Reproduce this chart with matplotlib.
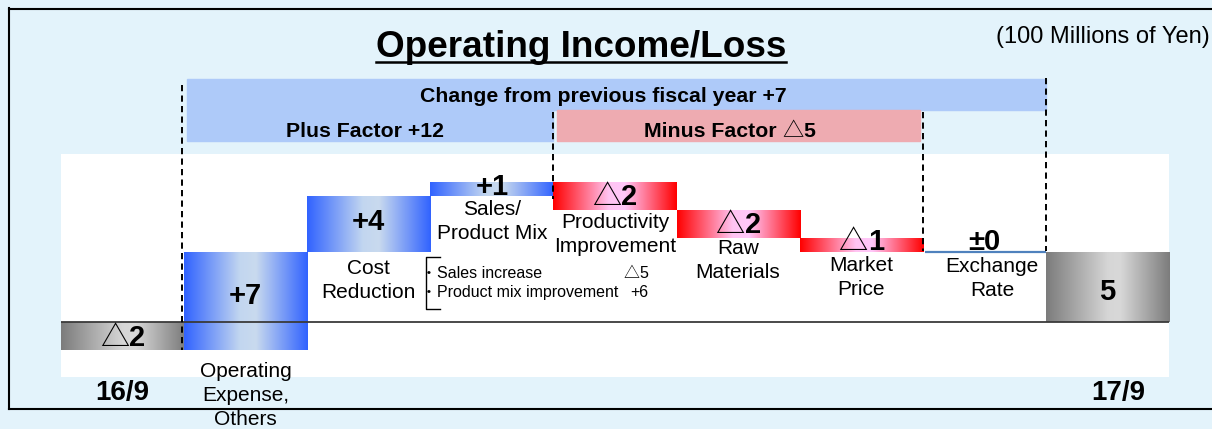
import numpy as np
import matplotlib
matplotlib.use("Agg")
import matplotlib.pyplot as plt
from matplotlib.colors import LinearSegmentedColormap
from matplotlib.transforms import ScaledTranslation
from matplotlib.lines import Line2D
from matplotlib.patches import Rectangle

# ---------------- data ----------------
categories = ["16/9", "Operating\nExpense,\nOthers", "Cost\nReduction", "Sales/\nProduct Mix",
              "Productivity\nImprovement", "Raw\nMaterials", "Market\nPrice", "Exchange\nRate", "17/9"]
values = [-2, 7, 4, 1, -2, -2, -1, 0, 5]
is_total = [True, False, False, False, False, False, False, False, True]
value_labels = ["△2", "+7", "+4", "+1", "△2", "△2", "△1", "±0", "5"]
title = "Operating Income/Loss"
unit_label = "(100 Millions of Yen)"
change_label = "Change from previous fiscal year +7"
plus_label = "Plus Factor +12"
minus_label = "Minus Factor △5"
note_items = ["Sales increase", "Product mix improvement"]
note_values = ["△5", "+6"]

# ---------------- layout / style ----------------
W, H = 1212, 429
DPI = 100
MAIN = ["Liberation Sans", "DejaVu Sans"]
TRI = ["Noto Sans CJK JP", "DejaVu Sans"]
BG = "#e3f3fb"

fig = plt.figure(figsize=(W / DPI, H / DPI), dpi=DPI, facecolor=BG)
ax = fig.add_axes([61 / W, 1 - 377 / H, (1169 - 61) / W, (377 - 154) / H])
ax.set_facecolor("white")
for s in ax.spines.values():
    s.set_visible(False)
ax.set_xticks([])
ax.set_yticks([])

n = len(values)
x = np.arange(n)
bottoms, heights = [], []
running = 0
for v, tot in zip(values, is_total):
    if tot:
        bottoms.append(0)
        heights.append(v)
        running = v
    else:
        bottoms.append(running)
        heights.append(v)
        running += v

bars = ax.bar(x, heights, bottom=bottoms, width=1.0, color="none", edgecolor="none")

cm_blue = LinearSegmentedColormap.from_list("b", [(0, "#3163ff"), (0.45, "#c2d6f0"), (0.58, "#c9daee"), (1, "#3163ff")])
cm_red = LinearSegmentedColormap.from_list("r", [(0, "#ff0000"), (0.45, "#ffc4f2"), (0.58, "#ffc8fa"), (1, "#ff0000")])
cm_gray = LinearSegmentedColormap.from_list("g", [(0, "#7c7c7c"), (0.5, "#d6d6d6"), (0.6, "#d8d8d8"), (1, "#7c7c7c")])
grad = np.linspace(0, 1, 256).reshape(1, -1)

for i, b in enumerate(bars):
    x0 = b.get_x()
    x1 = x0 + b.get_width()
    y0 = b.get_y()
    y1 = y0 + b.get_height()
    if heights[i] == 0:
        ax.hlines(y0, x0 + 0.02, x1, color="#4f81bd", lw=1.6, zorder=3)
        continue
    cm = cm_gray if is_total[i] else (cm_blue if heights[i] > 0 else cm_red)
    ax.imshow(grad, extent=(x0, x1, min(y0, y1), max(y0, y1)), origin="lower",
              aspect="auto", cmap=cm, interpolation="bicubic", zorder=2)

ax.axhline(0, color="#3a3a3a", lw=1.3, zorder=4)
ax.set_xlim(-0.5, n - 0.5)
ax.set_ylim(-3.93, 12.0)

renderer = fig.canvas.get_renderer()


def piece_text(xx, yy, pieces, size, ha="center", dx_px=0, dy_px=0, transform=None, zorder=6):
    trans = transform if transform is not None else ax.transData
    arts, widths = [], []
    for s, weight, fam in pieces:
        t = ax.text(xx, yy, s, fontsize=size, fontweight=weight, family=fam,
                    ha="left", va="baseline", transform=trans, clip_on=False, zorder=zorder)
        widths.append(t.get_window_extent(renderer).width)
        arts.append(t)
    total = sum(widths)
    off = {"center": -total / 2, "left": 0, "right": -total}[ha] + dx_px
    base = dy_px - 0.36 * size * DPI / 72
    for t, w in zip(arts, widths):
        t.set_transform(trans + ScaledTranslation(off / DPI, base / DPI, fig.dpi_scale_trans))
        off += w
    return arts


def split_tri(label, weight, fam=MAIN):
    if label.startswith("△"):
        return [("△", "normal", TRI), (label[1:], weight, fam)]
    return [(label, weight, fam)]


# value labels
label_dy = [0, 7, 4, 4, 1, 1, 5, 12, -3]
for i in range(n):
    cy = bottoms[i] + heights[i] / 2
    piece_text(x[i], cy, split_tri(value_labels[i], "bold"), 21, dy_px=label_dy[i])

# category labels
cat_dy = [0, 12, 7, 4, 3, 1, 4, 5, 0]
cat_dx = [0, 0, 0, 0, 0, 0, 0, 8, 11]
for i in range(n):
    if is_total[i]:
        piece_text(x[i], -4.86, [(categories[i], "bold", MAIN)], 20, dx_px=cat_dx[i])
    else:
        low = min(bottoms[i], bottoms[i] + heights[i])
        ax.text(x[i], low, categories[i], ha="center", va="top", fontsize=15, family=MAIN,
                linespacing=1.32, clip_on=False, zorder=6,
                transform=ax.transData + ScaledTranslation(cat_dx[i] / DPI, -cat_dy[i] / DPI, fig.dpi_scale_trans))

# note with bracket
ax.plot([2.579, 2.465, 2.465, 2.579], [4.64, 4.64, 0.93, 0.93], color="black", lw=1.0, zorder=5)
note_y = [3.57, 2.21]
for item, val, yy in zip(note_items, note_values, note_y):
    piece_text(2.425, yy, [("・", "normal", ["Noto Sans CJK JP"]), (item, "normal", MAIN)], 11.5, ha="left", dx_px=0)
    piece_text(4.27, yy, split_tri(val, "normal"), 11.5, ha="right")

# banners above the plot
ax.add_patch(Rectangle((0.52, 15.14), 7.5 - 0.52, 17.36 - 15.14, color="#aecaf9", clip_on=False, zorder=1))
ax.add_patch(Rectangle((0.52, 12.93), 3.5 - 0.52, 15.14 - 12.93, color="#aecaf9", clip_on=False, zorder=1))
ax.add_patch(Rectangle((3.53, 12.93), 6.48 - 3.53, 15.14 - 12.93, color="#eeabb1", clip_on=False, zorder=1))
piece_text(3.903, 16.29, [(change_label, "bold", MAIN)], 15.3)
piece_text(1.97, 13.75, [(plus_label, "bold", MAIN)], 15.3)
piece_text(4.93, 13.75, [(minus_label[:-2], "bold", MAIN), ("△", "normal", TRI), (minus_label[-1], "bold", MAIN)], 15.3)

# dashed guide lines
dash = dict(color="black", lw=1.4, dashes=(3.2, 2.2), clip_on=False, zorder=7)
ax.plot([0.483, 0.483], [16.9, -2.0], **dash)
ax.plot([3.5, 3.5], [15.0, 8.8], **dash)
ax.plot([6.5, 6.5], [15.0, 5.1], **dash)
ax.plot([7.5, 7.5], [17.4, 5.1], **dash)

# title & unit
tt = fig.text(581 / W, 1 - 57 / H, title, ha="center", va="baseline", fontsize=26.6,
              fontweight="bold", family=MAIN)
bb = tt.get_window_extent(renderer)
fig.add_artist(Line2D([bb.x0 / W, bb.x1 / W], [1 - 62 / H] * 2, color="black", lw=1.8))
fig.text(996 / W, 1 - 43 / H, unit_label, ha="left", va="baseline", fontsize=17, family=MAIN)

# frame
fig.add_artist(Line2D([8.5 / W, 1], [1 - 8.5 / H] * 2, color="black", lw=1.5))
fig.add_artist(Line2D([8.5 / W, 8.5 / W], [1 - 8 / H, 1 - 409 / H], color="black", lw=1.5))
fig.add_artist(Line2D([8.5 / W, 1], [1 - 409 / H] * 2, color="black", lw=1.5))

fig.savefig("out.png", dpi=DPI, facecolor=BG)
